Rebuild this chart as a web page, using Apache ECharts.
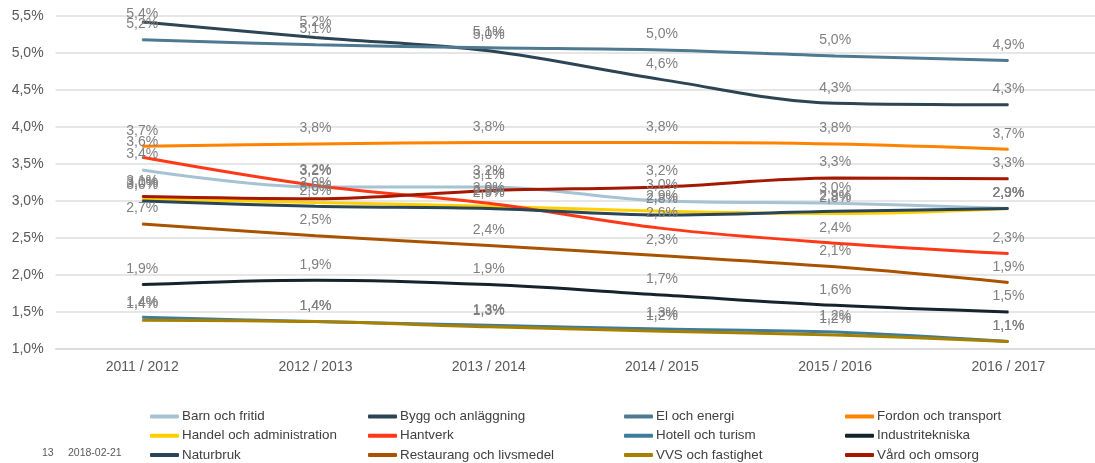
<!DOCTYPE html>
<html>
<head>
<meta charset="utf-8">
<script src="https://cdn.jsdelivr.net/npm/echarts@6/dist/echarts.min.js"></script>
<style>
  html, body { margin: 0; padding: 0; background: #fff; }
  #main { width: 1095px; height: 463px; }
</style>
</head>
<body>
<div id="main"></div>
<script>
var years = ['2011 / 2012', '2012 / 2013', '2013 / 2014', '2014 / 2015', '2015 / 2016', '2016 / 2017'];

// andel per program, procent
var barn       = [3.42, 3.19, 3.19, 3.00, 2.97, 2.90];
var bygg       = [5.42, 5.21, 5.03, 4.64, 4.32, 4.30];
var el         = [5.18, 5.11, 5.07, 5.04, 4.96, 4.90];
var fordon     = [3.74, 3.77, 3.79, 3.79, 3.77, 3.70];
var handel     = [3.03, 2.98, 2.93, 2.86, 2.83, 2.90];
var hantverk   = [3.59, 3.21, 2.97, 2.63, 2.43, 2.29];
var hotell     = [1.43, 1.37, 1.32, 1.27, 1.23, 1.10];
var industri   = [1.87, 1.93, 1.87, 1.73, 1.59, 1.50];
var naturbruk  = [3.00, 2.93, 2.90, 2.81, 2.86, 2.90];
var restaurang = [2.69, 2.53, 2.40, 2.26, 2.11, 1.90];
var vvs        = [1.39, 1.37, 1.30, 1.24, 1.19, 1.10];
var vard       = [3.06, 3.03, 3.14, 3.19, 3.31, 3.30];

var names = ['Barn och fritid', 'Bygg och anläggning', 'El och energi', 'Fordon och transport',
             'Handel och administration', 'Hantverk', 'Hotell och turism', 'Industritekniska',
             'Naturbruk', 'Restaurang och livsmedel', 'VVS och fastighet', 'Vård och omsorg'];
var values = [barn, bygg, el, fordon, handel, hantverk, hotell, industri, naturbruk, restaurang, vvs, vard];
var colors = ['#A6C3D3', '#2D4454', '#4E7A91', '#FF8200', '#FFD000', '#FF3818',
              '#3E7C9B', '#15232D', '#294556', '#A95300', '#A88000', '#A41800'];

var font = '"Liberation Sans", Arial, sans-serif';

function pct(v) {
  return v.toFixed(1).replace('.', ',') + '%';
}

var series = names.map(function (n, i) {
  return {
    name: n,
    type: 'line',
    smooth: 0.35,
    data: values[i],
    symbol: 'circle',
    symbolSize: 1,
    color: colors[i],
    lineStyle: { width: 3, color: colors[i] },
    label: {
      show: true,
      position: 'top',
      distance: 8,
      color: '#808080',
      fontSize: 14,
      fontFamily: font,
      formatter: function (p) { return pct(p.value); }
    },
    // Excel skjuter in etiketter som hamnar ovanför ritytan
    labelLayout: function (p) {
      if (p.labelRect.y < 7) return { dy: 7 - p.labelRect.y };
    },
    emphasis: { disabled: true },
    animation: false
  };
});

var legendCols = [
  { left: 150, data: [names[0], names[4], names[8]] },
  { left: 368, data: [names[1], names[5], names[9]] },
  { left: 624, data: [names[2], names[6], names[10]] },
  { left: 845, data: [names[3], names[7], names[11]] }
];

var myChart = echarts.init(document.getElementById('main'));
var option = {
  backgroundColor: '#fff',
  grid: { left: 55.6, right: -9.4, top: 16, bottom: 114 },
  xAxis: {
    type: 'category',
    data: years,
    boundaryGap: true,
    axisLine: { lineStyle: { color: '#d9d9d9', width: 1.5 } },
    axisTick: { show: false },
    axisLabel: { color: '#595959', fontSize: 14, fontFamily: font, margin: 11 }
  },
  yAxis: {
    type: 'value',
    min: 1,
    max: 5.5,
    interval: 0.5,
    axisLine: { show: false },
    axisTick: { show: false },
    splitLine: { lineStyle: { color: '#dedede', width: 1.5 } },
    axisLabel: {
      color: '#595959', fontSize: 14, fontFamily: font, margin: 12,
      formatter: function (v) { return pct(v); }
    }
  },
  legend: legendCols.map(function (c) {
    return {
      orient: 'vertical',
      left: c.left,
      top: 410,
      height: 60,
      padding: 0,
      data: c.data,
      icon: 'roundRect',
      itemWidth: 29,
      itemHeight: 4,
      itemGap: 6.3,
      selectedMode: false,
      textStyle: { color: '#404040', fontSize: 13.4, fontFamily: font, padding: [0, 0, 0, -2] }
    };
  }),
  graphic: [
    { type: 'text', left: 42, top: 448, style: { text: '13', fill: '#595959', font: '10.5px ' + font } },
    { type: 'text', left: 68, top: 448, style: { text: '2018-02-21', fill: '#595959', font: '10.5px ' + font } }
  ],
  series: series
};
myChart.setOption(option);
</script>
</body>
</html>
